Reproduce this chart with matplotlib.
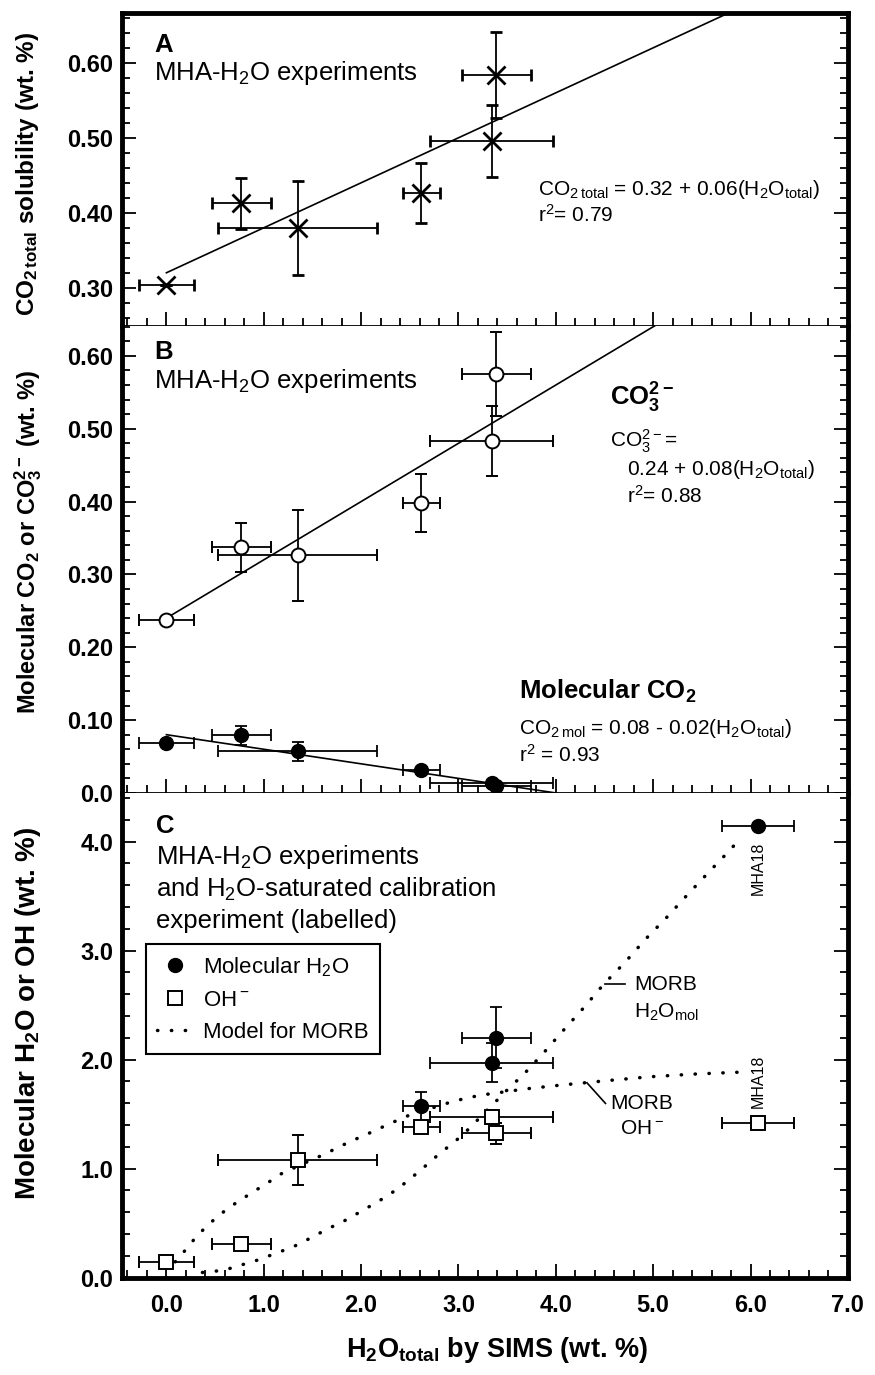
import numpy as np
import matplotlib
matplotlib.use('Agg')
import matplotlib.pyplot as plt
from matplotlib import font_manager
from matplotlib.lines import Line2D
from matplotlib.ticker import MultipleLocator

# H2O total by SIMS (wt. %) for the MHA-H2O glasses, with 1 sigma
h2o = [0.0, 0.77, 1.35, 2.62, 3.34, 3.39]
h2o_err = [0.28, 0.30, 0.815, 0.19, 0.63, 0.355]

# A: total CO2 solubility
co2_total = [0.304, 0.413, 0.380, 0.426, 0.496, 0.584]
co2_total_err = [0.0, 0.034, 0.063, 0.040, 0.048, 0.057]

# B: carbonate and molecular CO2
co3 = [0.237, 0.337, 0.326, 0.398, 0.483, 0.575]
co3_err = [0.0, 0.034, 0.063, 0.040, 0.048, 0.058]
co2_mol = [0.069, 0.079, 0.057, 0.031, 0.014, 0.009]
co2_mol_err = [0.0, 0.013, 0.013, 0.0, 0.0, 0.0]

# regression lines (intercept, slope)
fit_total = (0.32, 0.06)
fit_co3 = (0.24, 0.08)
fit_mol = (0.08, -0.02)

# C: molecular H2O and OH-, last point is the H2O-saturated run MHA18
h2o_mol_x = [2.62, 3.34, 3.39, 6.08]
h2o_mol_xerr = [0.19, 0.63, 0.355, 0.37]
h2o_mol = [1.57, 1.97, 2.20, 4.145]
h2o_mol_err = [0.13, 0.18, 0.28, 0.0]

oh_x = [0.0, 0.77, 1.35, 2.62, 3.34, 3.39, 6.08]
oh_xerr = [0.28, 0.30, 0.815, 0.19, 0.63, 0.355, 0.37]
oh = [0.144, 0.306, 1.08, 1.385, 1.475, 1.322, 1.414]
oh_err = [0.0, 0.0, 0.23, 0.0, 0.065, 0.10, 0.0]

# MORB speciation model
morb_h2o_x = [0.37, 0.53, 0.68, 0.83, 0.98, 1.12, 1.28, 1.42, 1.56, 1.70, 1.84,
              1.98, 2.11, 2.25, 2.38, 2.50, 2.62, 2.74, 2.86, 2.98, 3.10, 3.54,
              3.66, 3.87, 4.08, 4.29, 4.49, 4.71, 4.92, 5.14, 5.35, 5.57, 5.79, 5.89]
morb_h2o_y = [0.046, 0.061, 0.089, 0.132, 0.171, 0.223, 0.272, 0.334, 0.401, 0.465, 0.526,
              0.597, 0.664, 0.738, 0.817, 0.903, 0.992, 1.087, 1.175, 1.261, 1.359, 1.757,
              1.855, 2.057, 2.271, 2.479, 2.69, 2.892, 3.104, 3.306, 3.511, 3.719, 3.924, 4.025]
morb_oh_x = [0.09, 0.20, 0.30, 0.41, 0.53, 0.65, 0.79, 0.92, 1.05, 1.18, 1.47, 1.61,
             1.75, 1.89, 2.04, 2.18, 2.33, 2.47, 2.92, 3.07, 3.23, 3.70, 4.02, 4.48,
             4.96, 5.42, 5.90]
morb_oh_y = [0.144, 0.257, 0.367, 0.468, 0.563, 0.646, 0.728, 0.802, 0.875, 0.952, 1.071, 1.126,
             1.188, 1.249, 1.307, 1.365, 1.426, 1.481, 1.61, 1.644, 1.674, 1.732, 1.763, 1.803,
             1.842, 1.867, 1.885]

a_ticks = [0.3, 0.4, 0.5, 0.6]
a_tick_labels = ['0.30', '0.40', '0.50', '0.60']
b_ticks = [0.0, 0.1, 0.2, 0.3, 0.4, 0.5, 0.6]
b_tick_labels = ['0.0', '0.10', '0.20', '0.30', '0.40', '0.50', '0.60']
c_ticks = [0.0, 1.0, 2.0, 3.0, 4.0]
c_tick_labels = ['0.0', '1.0', '2.0', '3.0', '4.0']
x_ticks = [0, 1, 2, 3, 4, 5, 6, 7]
x_tick_labels = ['0.0', '1.0', '2.0', '3.0', '4.0', '5.0', '6.0', '7.0']

installed = {f.name for f in font_manager.fontManager.ttflist}
NARROW = 'Liberation Sans Narrow' if 'Liberation Sans Narrow' in installed else 'Liberation Sans'

plt.rcParams['font.family'] = ['Liberation Sans', 'DejaVu Sans']
plt.rcParams['mathtext.default'] = 'regular'

TXT = 18.5
EQ = 15
TICK = 17

fig = plt.figure(figsize=(8.75, 13.75), dpi=100)
left, width = 0.139, 0.830
ax_a = fig.add_axes([left, 0.7629, width, 0.9903 - 0.7629])
ax_b = fig.add_axes([left, 0.4233, width, 0.7629 - 0.4233])
ax_c = fig.add_axes([left, 0.0709, width, 0.4233 - 0.0709])
axes = [ax_a, ax_b, ax_c]

for ax in axes:
    ax.set_xlim(-0.46, 7.0)
    ax.set_xticks(x_ticks)
    ax.xaxis.set_minor_locator(MultipleLocator(0.2))
    ax.tick_params(which='both', direction='in', left=True, right=True,
                   bottom=True, top=False, width=1.3, labelsize=TICK)
    ax.tick_params(which='major', length=10, pad=6)
    ax.tick_params(which='minor', length=5.5)
    for side in ['left', 'right']:
        ax.spines[side].set_linewidth(3.5)

ax_a.spines['top'].set_linewidth(3.5)
ax_a.spines['bottom'].set_linewidth(1.3)
ax_b.spines['top'].set_visible(False)
ax_b.spines['bottom'].set_linewidth(1.3)
ax_c.spines['top'].set_visible(False)
ax_c.spines['bottom'].set_linewidth(3.5)

ax_a.tick_params(labelbottom=False)
ax_b.tick_params(labelbottom=False)
ax_c.set_xticklabels(x_tick_labels, fontweight='bold', fontsize=TICK)
ax_c.tick_params(axis='x', pad=12)

ax_a.set_ylim(0.249, 0.666)
ax_a.set_yticks(a_ticks)
ax_a.set_yticklabels(a_tick_labels, fontweight='bold', fontsize=TICK)
ax_a.yaxis.set_minor_locator(MultipleLocator(0.02))

ax_b.set_ylim(0.003, 0.641)
ax_b.set_yticks(b_ticks)
ax_b.set_yticklabels(b_tick_labels, fontweight='bold', fontsize=TICK)
ax_b.yaxis.set_minor_locator(MultipleLocator(0.02))

ax_c.set_ylim(0.0, 4.447)
ax_c.set_yticks(c_ticks)
ax_c.set_yticklabels(c_tick_labels, fontweight='bold', fontsize=TICK)
ax_c.yaxis.set_minor_locator(MultipleLocator(0.2))

eb = dict(ecolor='black', elinewidth=1.3, capsize=4.5, capthick=1.3, ls='none')
xline = np.array([0.0, 7.0])

# --- A ---
ax_a.plot(xline, fit_total[0] + fit_total[1] * xline, color='black', lw=1.2)
ax_a.errorbar(h2o, co2_total, xerr=h2o_err, yerr=co2_total_err, marker='x',
              ms=13, mew=2.0, color='black', **eb)
ax_a.text(-0.127, 0.624, 'A', fontsize=TXT, fontweight='bold', va='center')
ax_a.text(-0.127, 0.586, 'MHA-H$_2$O experiments', fontsize=TXT, va='center')
ax_a.text(3.82, 0.431, 'CO$_{2\\,total}$ = 0.32 + 0.06(H$_2$O$_{total}$)', fontsize=EQ, va='center')
ax_a.text(3.82, 0.397, 'r$^2$= 0.79', fontsize=EQ, va='center')

# --- B ---
ax_b.plot(xline, fit_co3[0] + fit_co3[1] * xline, color='black', lw=1.2)
xmol = np.array([0.0, 4.0])
ax_b.plot(xmol, fit_mol[0] + fit_mol[1] * xmol, color='black', lw=1.2)
ax_b.errorbar(h2o, co3, xerr=h2o_err, yerr=co3_err, marker='o', ms=10,
              mfc='white', mec='black', mew=1.4, **eb)
ax_b.errorbar(h2o, co2_mol, xerr=h2o_err, yerr=co2_mol_err, marker='o', ms=10,
              mfc='black', mec='black', **eb)
ax_b.text(-0.127, 0.606, 'B', fontsize=TXT, fontweight='bold', va='center')
ax_b.text(-0.127, 0.565, 'MHA-H$_2$O experiments', fontsize=TXT, va='center')
ax_b.text(4.56, 0.542, 'CO$_3^{2-}$', fontsize=TXT, fontweight='bold', va='center')
ax_b.text(4.56, 0.483, 'CO$_3^{2-}$=', fontsize=EQ, va='center')
ax_b.text(4.73, 0.444, '0.24 + 0.08(H$_2$O$_{total}$)', fontsize=EQ, va='center')
ax_b.text(4.73, 0.408, 'r$^2$= 0.88', fontsize=EQ, va='center')
ax_b.text(3.62, 0.139, 'Molecular CO$_2$', fontsize=TXT, fontweight='bold', va='center')
ax_b.text(3.62, 0.089, 'CO$_{2\\,mol}$ = 0.08 - 0.02(H$_2$O$_{total}$)', fontsize=EQ, va='center')
ax_b.text(3.62, 0.053, 'r$^2$ = 0.93', fontsize=EQ, va='center')

# --- C ---
dots = dict(color='black', lw=2.5, ls=(0, (0.1, 3.9)), dash_capstyle='round')
ax_c.plot(morb_h2o_x, morb_h2o_y, **dots)
ax_c.plot(morb_oh_x, morb_oh_y, **dots)
ax_c.errorbar(h2o_mol_x, h2o_mol, xerr=h2o_mol_xerr, yerr=h2o_mol_err, marker='o',
              ms=10, mfc='black', mec='black', **eb)
ax_c.errorbar(oh_x, oh, xerr=oh_xerr, yerr=oh_err, marker='s', ms=10,
              mfc='white', mec='black', mew=1.4, **eb)

ax_c.text(-0.11, 4.14, 'C', fontsize=TXT, fontweight='bold', va='center')
ax_c.text(-0.11, 3.863, 'MHA-H$_2$O experiments', fontsize=TXT, va='center')
ax_c.text(-0.11, 3.563, 'and H$_2$O-saturated calibration', fontsize=TXT, va='center')
ax_c.text(-0.11, 3.275, 'experiment (labelled)', fontsize=TXT, va='center')

ax_c.text(6.08, 3.76, 'MHA18', rotation=90, fontsize=11.5, ha='center', va='center')
ax_c.text(6.08, 1.80, 'MHA18', rotation=90, fontsize=11.5, ha='center', va='center')

ax_c.plot([4.51, 4.71], [2.69, 2.69], color='black', lw=1.2)
ax_c.text(4.81, 2.69, 'MORB', fontsize=15, va='center')
ax_c.text(5.14, 2.43, 'H$_2$O$_{mol}$', fontsize=15, ha='center', va='center')
ax_c.plot([4.32, 4.51], [1.787, 1.598], color='black', lw=1.2)
ax_c.text(4.56, 1.60, 'MORB', fontsize=15, va='center')
ax_c.text(4.89, 1.37, 'OH$^-$', fontsize=15, ha='center', va='center')

handles = [
    Line2D([], [], ls='none', marker='o', ms=10, color='black'),
    Line2D([], [], ls='none', marker='s', ms=10, mfc='white', mec='black', mew=1.4),
    Line2D([], [], **dots),
]
leg = ax_c.legend(handles, ['Molecular H$_2$O', 'OH$^-$', 'Model for MORB'],
                  loc='upper left', bbox_to_anchor=(0.034, 0.688), borderaxespad=0,
                  fontsize=16, fancybox=False, framealpha=1, edgecolor='black',
                  handlelength=1.6, handletextpad=0.45, borderpad=0.5, labelspacing=0.5)
leg.get_frame().set_linewidth(1.5)

# axis titles
ylab = dict(rotation=90, ha='center', va='center', fontweight='bold', family=NARROW)
fig.text(0.032, 0.8735, 'CO$_{2\\,total}$ solubility (wt. %)', fontsize=17.5, **ylab)
fig.text(0.032, 0.606, 'Molecular CO$_2$ or CO$_3^{2-}$ (wt. %)', fontsize=17, **ylab)
fig.text(0.032, 0.263, 'Molecular H$_2$O or OH (wt. %)', fontsize=20, **ylab)
fig.text(0.568, 0.018, 'H$_2$O$_{total}$ by SIMS (wt. %)', fontsize=19.5, ha='center',
         va='center', fontweight='bold', family=NARROW)

fig.savefig('out.png', dpi=100)
